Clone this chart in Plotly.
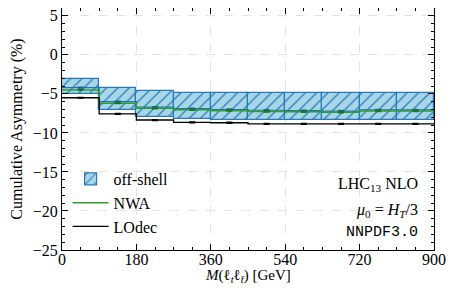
import plotly.graph_objects as go

edges = [0, 90, 180, 270, 360, 450, 540, 630, 720, 810, 900]
offshell_low = [-5.0, -7.05, -7.9, -8.2, -8.3, -8.3, -8.35, -8.4, -8.35, -8.35]
offshell_high = [-3.05, -4.25, -4.6, -4.85, -4.87, -4.87, -4.87, -4.87, -4.87, -4.87]
offshell_c = [-4.2, -6.0, -6.7, -6.9, -7.0, -7.1, -7.15, -7.2, -7.05, -7.05]
nwa = [-4.5, -6.2, -6.85, -7.05, -7.15, -7.25, -7.3, -7.35, -7.2, -7.2]
lodec = [-5.5, -7.55, -8.35, -8.65, -8.7, -8.85, -8.85, -8.85, -8.85, -8.85]
stat_err = [0.05, 0.06, 0.06, 0.07, 0.07, 0.07, 0.07, 0.07, 0.07, 0.07]

centers = [(a + b) / 2 for a, b in zip(edges[:-1], edges[1:])]
widths = [b - a for a, b in zip(edges[:-1], edges[1:])]

SERIF = "'Liberation Serif', 'Times New Roman', Times, serif"
FS = 16
fig = go.Figure()

fig.add_trace(go.Bar(
    x=centers, y=[h - l for h, l in zip(offshell_high, offshell_low)], base=offshell_low,
    width=widths, name="off-shell",
    marker=dict(color="#a8d6e9", line=dict(color="#2a7ab8", width=1.2),
                pattern=dict(shape="/", fgcolor="#2a7ab8", bgcolor="#a8d6e9",
                             size=8, solidity=0.16, fillmode="replace")),
    showlegend=True,
))

def step(vals):
    return edges, vals + [vals[-1]]

x, y = step(offshell_c)
fig.add_trace(go.Scatter(x=x, y=y, mode="lines", line=dict(color="#2a6fb0", width=1.2, shape="hv"),
                         showlegend=False))
x, y = step(nwa)
fig.add_trace(go.Scatter(x=x, y=y, mode="lines", line=dict(color="#2ca02c", width=1.5, shape="hv"),
                         name="NWA"))
x, y = step(lodec)
fig.add_trace(go.Scatter(x=x, y=y, mode="lines", line=dict(color="black", width=1.3, shape="hv"),
                         name="LOdec"))

for vals, col in [(offshell_c, "#1f5f9a"), (nwa, "#1a7a1a"), (lodec, "black")]:
    fig.add_trace(go.Scatter(x=centers, y=vals, mode="markers", marker=dict(size=1, color=col),
                             error_y=dict(type="data", array=stat_err, color=col, thickness=1.3, width=3),
                             showlegend=False, hoverinfo="skip"))

axis_common = dict(showline=True, linecolor="black", linewidth=1, mirror="ticks",
                   ticks="inside", ticklen=6, tickcolor="black", automargin=False,
                   ticklabeloverflow="allow",
                   showgrid=True, gridcolor="#e3e3e3", griddash="dash", gridwidth=1,
                   zeroline=False, tickfont=dict(family=SERIF, size=FS, color="black"))

fig.update_xaxes(range=[0, 900], tickvals=[0, 180, 360, 540, 720, 900],
                 ticklabelstandoff=-5,
                 minor=dict(dtick=45, ticks="inside", ticklen=3, tickcolor="black", showgrid=False),
                 **axis_common)
fig.update_yaxes(range=[-25, 6], tickvals=[-25, -20, -15, -10, -5, 0, 5],
                 ticktext=["−25", "−20", "−15", "−10", "−5", "0", "5"],
                 minor=dict(dtick=1, ticks="inside", ticklen=3, tickcolor="black", showgrid=False),
                 title=dict(text="Cumulative Asymmetry (%)",
                            font=dict(family=SERIF, size=FS, color="black"), standoff=6),
                 **axis_common)

fig.add_annotation(x=0.5, y=-0.108, xref="paper", yref="paper", xanchor="center", yanchor="middle",
                   text="<i>M</i>(ℓ<sub><i>t</i></sub>ℓ<sub><i>t̄</i></sub>) [GeV]", showarrow=False,
                   font=dict(family=SERIF, size=15, color="black"))
fig.add_annotation(x=0.962, y=0.269, xref="paper", yref="paper", xanchor="right", yanchor="middle",
                   text="LHC<sub>13</sub> NLO", showarrow=False,
                   font=dict(family=SERIF, size=FS, color="black"))
fig.add_annotation(x=0.962, y=0.165, xref="paper", yref="paper", xanchor="right", yanchor="middle",
                   text="<i>μ</i><sub>0</sub> = <i>H<sub>T</sub></i>/3", showarrow=False,
                   font=dict(family=SERIF, size=FS, color="black"))
fig.add_annotation(x=0.962, y=0.074, xref="paper", yref="paper", xanchor="right", yanchor="middle",
                   text="NNPDF3.0", showarrow=False,
                   font=dict(family="'Liberation Mono', monospace", size=15, color="black"))

fig.update_layout(
    width=446, height=289, margin=dict(l=54, r=20, t=0, b=47),
    font=dict(family=SERIF, size=FS, color="black"),
    plot_bgcolor="white", paper_bgcolor="white", bargap=0,
    legend=dict(x=0.015, y=0.025, xanchor="left", yanchor="bottom", bgcolor="rgba(0,0,0,0)",
                font=dict(family=SERIF, size=FS, color="black"), tracegroupgap=0, itemwidth=36),
)

fig.write_html("out.html")
